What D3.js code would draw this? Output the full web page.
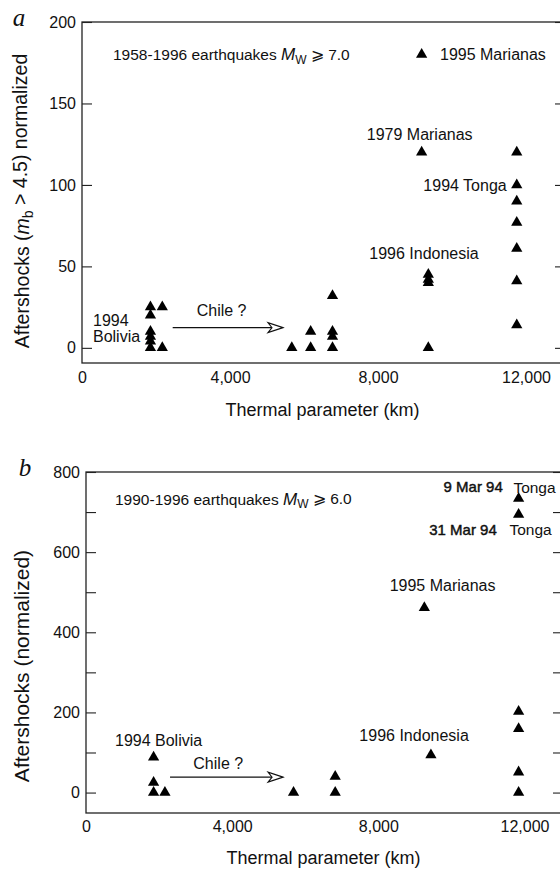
<!DOCTYPE html>
<html>
<head>
<meta charset="utf-8">
<script src="https://cdn.jsdelivr.net/npm/d3@7"></script>
<style>
  body { margin: 0; background: #fff; }
  svg { display: block; }
  text { font-family: "Liberation Sans", Arial, Helvetica, sans-serif; fill: #111; }
  .axis path.domain { display: none; }
  .axis line { stroke: #222; stroke-width: 1.1; }
</style>
</head>
<body>
<svg id="chart" width="560" height="870"></svg>
<script>
// panel a : 1958-1996, Mw >= 7.0
let thermalA =     [1850, 1850, 1850, 1850, 1850, 1850, 2170, 2170, 5670, 6180, 6180, 6770, 6770, 6770, 6770, 9180, 9180, 9360, 9360, 9360, 9360, 11750, 11750, 11750, 11750, 11750, 11750, 11750];
let aftershocksA = [25,   20,   10,   7,    4,    0,    25,   0,    0,    10,   0,    32,   10,   7,    0,    120,  180,  45,   42,   40,   0,    120,   100,   90,    77,    61,    41,    14];

// panel b : 1990-1996, Mw >= 6.0
let thermalB =     [1850, 1850, 1850, 2160, 5680, 6820, 6820, 9260, 9440, 11840, 11840, 11840, 11840, 11840, 11840];
let aftershocksB = [88,   25,   0,    0,    0,    40,   0,    461,  94,   202,   159,   51,    0,     694,   734];

let xTicks = [0, 4000, 8000, 12000];
let yTicksA = [0, 50, 100, 150, 200];
let yTicksB = [0, 100, 200, 300, 400, 500, 600, 700, 800];
let yLabelsB = [0, 200, 400, 600, 800];

// annotations in data units
let notesA = [
  {text: "1995 Marianas", x: 9676, y: 180, anchor: "start"},
  {text: "1979 Marianas", x: 9127, y: 131, anchor: "middle"},
  {text: "1994 Tonga", x: 11478, y: 100, anchor: "end"},
  {text: "1996 Indonesia", x: 9243, y: 58, anchor: "middle"},
  {text: "1994", x: 297, y: 16.7, anchor: "start"},
  {text: "Bolivia", x: 297, y: 6.8, anchor: "start"},
  {text: "Chile ?", x: 3100, y: 22.8, anchor: "start"}
];
let notesB = [
  {text: "9 Mar 94", x: 11406, y: 762, anchor: "end", size: 15, heavy: true},
  {text: "Tonga", x: 11697, y: 762, anchor: "start", size: 15.5},
  {text: "31 Mar 94", x: 11243, y: 657, anchor: "end", size: 15, heavy: true},
  {text: "Tonga", x: 11588, y: 657, anchor: "start", size: 15.5},
  {text: "1995 Marianas", x: 9759, y: 517, anchor: "middle"},
  {text: "1996 Indonesia", x: 8979, y: 142, anchor: "middle"},
  {text: "1994 Bolivia", x: 794, y: 130, anchor: "start"},
  {text: "Chile ?", x: 2937, y: 72, anchor: "start"}
];
let arrowA = {x1: 2451, x2: 5432, y: 12.4};
let arrowB = {x1: 2300, x2: 5393, y: 38.5};

let svg = d3.select("#chart");

let drawPanel = function (cfg) {
  let x = d3.scaleLinear().domain([0, 13000]).range(cfg.xRange);
  let y = d3.scaleLinear().domain(cfg.yDomain).range(cfg.yRange);
  let g = svg.append("g");

  // frame
  g.append("rect")
    .attr("x", cfg.xRange[0])
    .attr("y", cfg.yRange[1])
    .attr("width", cfg.xRange[1] - cfg.xRange[0])
    .attr("height", cfg.yRange[0] - cfg.yRange[1])
    .attr("fill", "none")
    .attr("stroke", "#222")
    .attr("stroke-width", 1.3);

  g.append("g")
    .attr("class", "axis")
    .attr("transform", "translate(" + cfg.xRange[0] + ",0)")
    .call(d3.axisLeft(y).tickValues(cfg.yTicks).tickSizeInner(-10).tickSizeOuter(0).tickPadding(6)
      .tickFormat(function (d) { return cfg.yLabels.indexOf(d) >= 0 ? d : ""; }))
    .selectAll("text").style("font-size", "16px");

  g.append("g")
    .attr("class", "axis")
    .attr("transform", "translate(" + cfg.xRange[1] + ",0)")
    .call(d3.axisRight(y).tickValues(cfg.yTicks).tickSizeInner(-8).tickSizeOuter(0).tickFormat(""));

  g.append("g")
    .attr("class", "axis")
    .attr("transform", "translate(0," + cfg.yRange[0] + ")")
    .call(d3.axisBottom(x).tickValues(xTicks).tickSize(0).tickPadding(cfg.xPad).tickFormat(d3.format(",")))
    .selectAll("text").style("font-size", "16px");

  // x title
  g.append("text")
    .attr("x", (cfg.xRange[0] + cfg.xRange[1]) / 2)
    .attr("y", cfg.xTitleY)
    .attr("text-anchor", "middle")
    .attr("dy", "0.35em")
    .style("font-size", "18px")
    .text("Thermal parameter (km)");

  // y title
  let yt = g.append("text")
    .attr("transform", "translate(22," + cfg.yTitleY + ") rotate(-90)")
    .attr("text-anchor", "middle")
    .attr("dy", "0.35em")
    .style("font-size", cfg.yTitleSize + "px");
  cfg.yTitle(yt);

  // panel letter
  g.append("text")
    .attr("x", cfg.letterX)
    .attr("y", cfg.letterY)
    .attr("dy", "0.35em")
    .attr("text-anchor", "middle")
    .style("font-family", "'Liberation Serif', 'Times New Roman', serif")
    .style("font-style", "italic")
    .style("font-size", "25px")
    .text(cfg.letter);

  // header
  let h = g.append("text")
    .attr("x", x(cfg.header.x))
    .attr("y", y(cfg.header.y))
    .attr("dy", "0.35em")
    .style("font-size", "15.5px");
  h.append("tspan").text(cfg.header.text + " ");
  h.append("tspan").style("font-style", "italic").style("font-size", "17px").text("M");
  h.append("tspan").attr("dy", "0.3em").style("font-size", "12px").text("W");
  h.append("tspan").attr("dy", "-0.25em").text(" \u2A7E " + cfg.header.mag);

  // points
  g.selectAll(".pt")
    .data(cfg.xs)
    .enter().append("path")
    .attr("class", "pt")
    .attr("d", d3.symbol(d3.symbolTriangle, 55))
    .attr("fill", "#000")
    .attr("transform", function (d, i) {
      return "translate(" + x(d) + "," + y(cfg.ys[i]) + ")";
    });

  // labels
  g.selectAll(".note")
    .data(cfg.notes)
    .enter().append("text")
    .attr("class", "note")
    .attr("x", function (d) { return x(d.x); })
    .attr("y", function (d) { return y(d.y); })
    .attr("dy", "0.35em")
    .attr("text-anchor", function (d) { return d.anchor; })
    .style("font-size", function (d) { return (d.size || 16) + "px"; })
    .style("stroke", function (d) { return d.heavy ? "#111" : "none"; })
    .style("stroke-width", 0.45)
    .text(function (d) { return d.text; });

  // Chile arrow
  let ax1 = x(cfg.arrow.x1), ax2 = x(cfg.arrow.x2), ay = y(cfg.arrow.y);
  g.append("line")
    .attr("x1", ax1).attr("x2", ax2 - 11)
    .attr("y1", ay).attr("y2", ay)
    .attr("stroke", "#111").attr("stroke-width", 1.1);
  g.append("path")
    .attr("d", "M" + ax2 + "," + ay + "L" + (ax2 - 15) + "," + (ay - 5) + "L" + (ax2 - 11) + "," + ay + "L" + (ax2 - 15) + "," + (ay + 5) + "Z")
    .attr("fill", "#fff").attr("stroke", "#111").attr("stroke-width", 1.1);
};

drawPanel({
  xRange: [82, 563], yDomain: [-9.3, 200], yRange: [363, 22],
  yTicks: yTicksA, yLabels: yTicksA, xPad: 9,
  xTitleY: 410, yTitleY: 201, yTitleSize: 19.5,
  yTitle: function (t) {
    t.append("tspan").text("Aftershocks (");
    t.append("tspan").style("font-style", "italic").text("m");
    t.append("tspan").attr("dy", "0.3em").style("font-size", "14px").text("b");
    t.append("tspan").attr("dy", "-0.3em").text(" > 4.5) normalized");
  },
  letter: "a", letterX: 19, letterY: 17,
  header: {text: "1958-1996 earthquakes", mag: "7.0", x: 838, y: 180},
  xs: thermalA, ys: aftershocksA, notes: notesA, arrow: arrowA
});

drawPanel({
  xRange: [86, 561], yDomain: [-51, 800], yRange: [813, 472],
  yTicks: yTicksB, yLabels: yLabelsB, xPad: 8,
  xTitleY: 858, yTitleY: 666, yTitleSize: 21,
  yTitle: function (t) { t.text("Aftershocks (normalized)"); },
  letter: "b", letterX: 25, letterY: 467,
  header: {text: "1990-1996 earthquakes", mag: "6.0", x: 794, y: 732},
  xs: thermalB, ys: aftershocksB, notes: notesB, arrow: arrowB
});
</script>
</body>
</html>
